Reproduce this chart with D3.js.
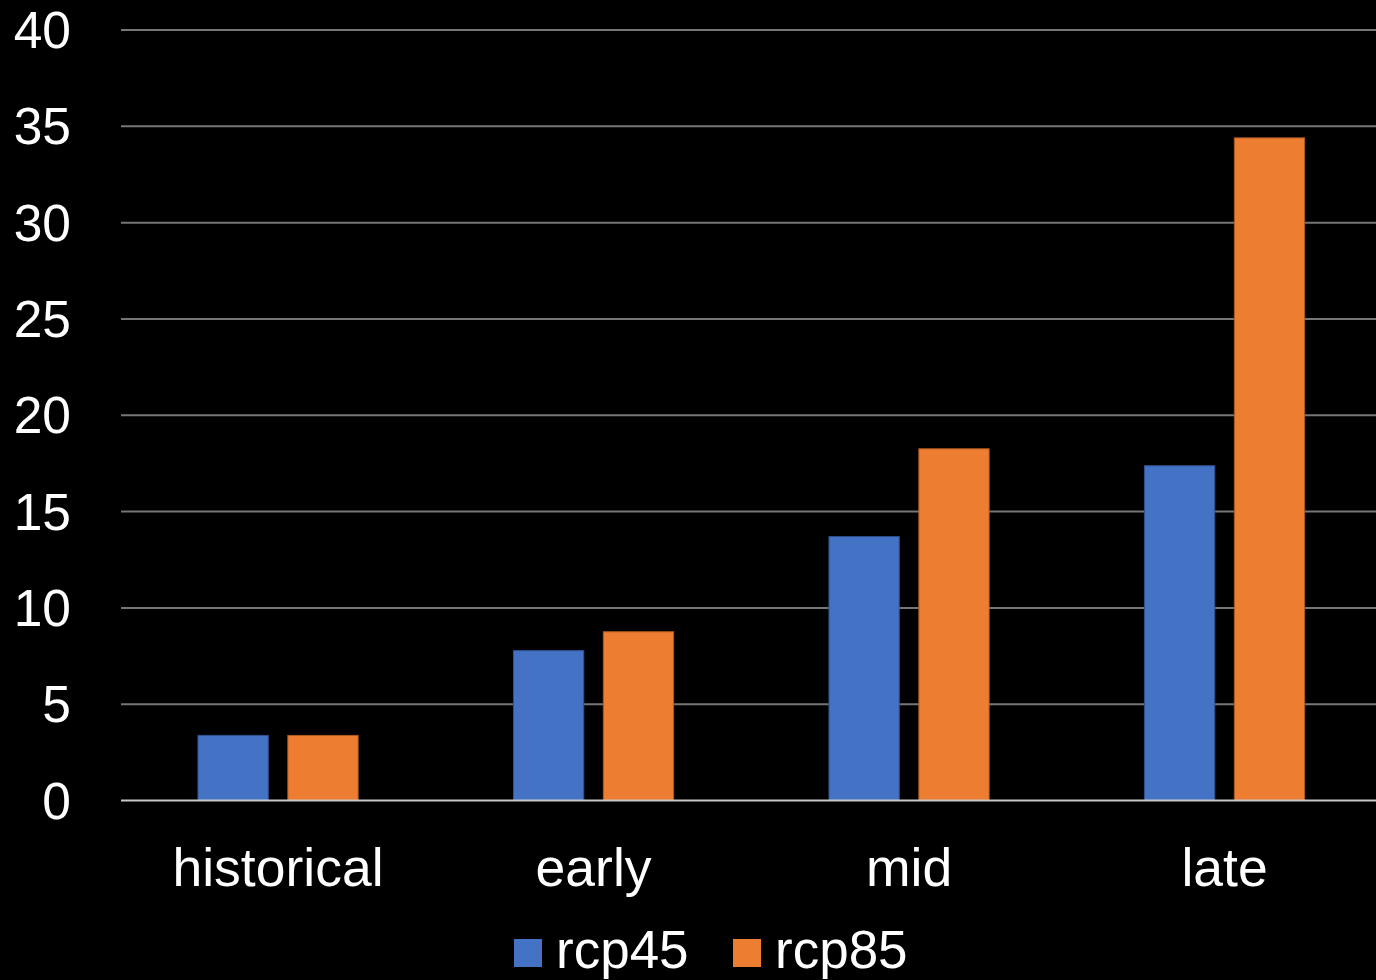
<!DOCTYPE html>
<html>
<head>
<meta charset="utf-8">
<script src="https://cdn.jsdelivr.net/npm/d3@7"></script>
<style>
  html, body { margin: 0; padding: 0; background: #000; overflow: hidden; }
  svg { display: block; }
  text { font-family: "Helvetica Neue", Helvetica, "Liberation Sans", Arial, sans-serif; fill: #fff; }
</style>
</head>
<body>
<svg id="chart" width="1376" height="980"></svg>
<script>
const categories = ["historical", "early", "mid", "late"];
const seriesNames = ["rcp45", "rcp85"];
const rcp45 = [3.38, 7.78, 13.7, 17.38];
const rcp85 = [3.38, 8.76, 18.26, 34.4];
const yTicks = [0, 5, 10, 15, 20, 25, 30, 35, 40];
const colors = ["#4472C4", "#ED7D31"];
const strokes = ["#2F528F", "#AE5A21"];

(function () {
const seriesValues = [rcp45, rcp85];
const svg = d3.select("#chart");
const W = 1376, H = 980;
const mLeft = 121, mRight = 1376, mTop = 30, mBottom = 800.5;

svg.append("rect").attr("width", W).attr("height", H).attr("fill", "#000");

const y = d3.scaleLinear().domain([0, 40]).range([mBottom, mTop]);
const x0 = d3.scaleBand().domain(categories).range([120.3, 1382.3]).padding(0);
const x1 = d3.scaleBand().domain(seriesNames).range([0, x0.bandwidth()])
  .paddingInner(0.218).paddingOuter(0.864);

// gridlines
svg.append("g").selectAll("line").data(yTicks.filter(d => d !== 0)).join("line")
  .attr("x1", mLeft).attr("x2", mRight)
  .attr("y1", d => y(d)).attr("y2", d => y(d))
  .attr("stroke", "#767676").attr("stroke-width", 2);

// y tick labels
svg.append("g").selectAll("text").data(yTicks).join("text")
  .attr("x", 71).attr("y", d => y(d) + 18)
  .attr("text-anchor", "end")
  .attr("font-size", 51.5)
  .text(d => d);

// bars
const groups = svg.append("g").selectAll("g").data(categories).join("g")
  .attr("transform", d => `translate(${x0(d)},0)`);
groups.selectAll("rect").data((c, i) => seriesNames.map((s, k) => ({ s, k, v: seriesValues[k][i] })))
  .join("rect")
  .attr("x", d => x1(d.s))
  .attr("width", x1.bandwidth())
  .attr("y", d => y(d.v))
  .attr("height", d => y(0) - y(d.v))
  .attr("fill", d => colors[d.k])
  .attr("stroke", d => strokes[d.k])
  .attr("stroke-width", 1);

// zero line
svg.append("line").attr("x1", mLeft).attr("x2", mRight)
  .attr("y1", y(0)).attr("y2", y(0))
  .attr("stroke", "#c8c8c8").attr("stroke-width", 2);

// category labels
svg.append("g").selectAll("text").data(categories).join("text")
  .attr("x", d => x0(d) + x0.bandwidth() / 2)
  .attr("y", 886)
  .attr("text-anchor", "middle")
  .attr("font-size", 53.5)
  .text(d => d);

// legend
const legendX = [514, 733];
const lg = svg.append("g").selectAll("g").data(seriesNames).join("g")
  .attr("transform", (d, i) => `translate(${legendX[i]},939)`);
lg.append("rect").attr("width", 28).attr("height", 28).attr("fill", (d, i) => colors[i]);
lg.append("text").attr("x", 42).attr("y", 29).attr("font-size", 53).text(d => d);
})();
</script>
</body>
</html>
